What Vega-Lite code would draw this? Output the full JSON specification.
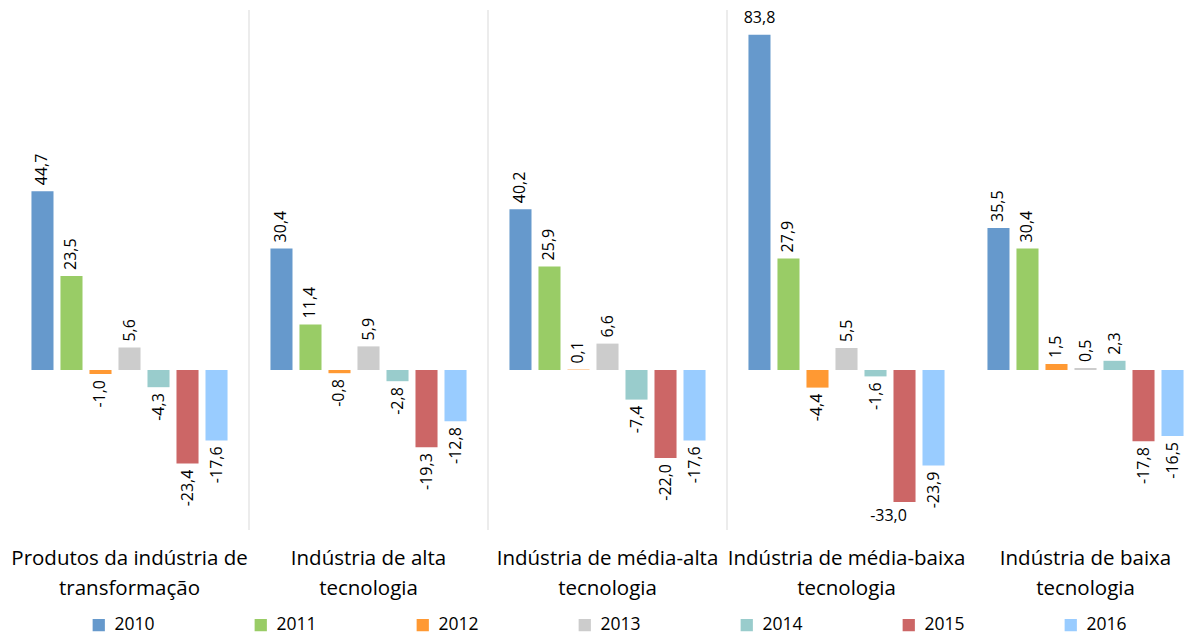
{
  "$schema": "https://vega.github.io/schema/vega-lite/v6.json",
  "width": 1184,
  "height": 520,
  "autosize": "none",
  "padding": {"left": 10, "top": 10, "right": 0, "bottom": 107},
  "background": "white",
  "config": {
    "view": {"stroke": null},
    "font": "Open Sans",
    "locale": {"number": {"decimal": ",", "thousands": ".", "grouping": [3], "currency": ["", ""], "minus": "-"}}
  },
  "datasets": {
    "bars": [
      {"cat": "Produtos da indústria de transformação", "year": "2010", "value": 44.7},
      {"cat": "Produtos da indústria de transformação", "year": "2011", "value": 23.5},
      {"cat": "Produtos da indústria de transformação", "year": "2012", "value": -1.0},
      {"cat": "Produtos da indústria de transformação", "year": "2013", "value": 5.6},
      {"cat": "Produtos da indústria de transformação", "year": "2014", "value": -4.3},
      {"cat": "Produtos da indústria de transformação", "year": "2015", "value": -23.4},
      {"cat": "Produtos da indústria de transformação", "year": "2016", "value": -17.6},
      {"cat": "Indústria de alta tecnologia", "year": "2010", "value": 30.4},
      {"cat": "Indústria de alta tecnologia", "year": "2011", "value": 11.4},
      {"cat": "Indústria de alta tecnologia", "year": "2012", "value": -0.8},
      {"cat": "Indústria de alta tecnologia", "year": "2013", "value": 5.9},
      {"cat": "Indústria de alta tecnologia", "year": "2014", "value": -2.8},
      {"cat": "Indústria de alta tecnologia", "year": "2015", "value": -19.3},
      {"cat": "Indústria de alta tecnologia", "year": "2016", "value": -12.8},
      {"cat": "Indústria de média-alta tecnologia", "year": "2010", "value": 40.2},
      {"cat": "Indústria de média-alta tecnologia", "year": "2011", "value": 25.9},
      {"cat": "Indústria de média-alta tecnologia", "year": "2012", "value": 0.1},
      {"cat": "Indústria de média-alta tecnologia", "year": "2013", "value": 6.6},
      {"cat": "Indústria de média-alta tecnologia", "year": "2014", "value": -7.4},
      {"cat": "Indústria de média-alta tecnologia", "year": "2015", "value": -22.0},
      {"cat": "Indústria de média-alta tecnologia", "year": "2016", "value": -17.6},
      {"cat": "Indústria de média-baixa tecnologia", "year": "2010", "value": 83.8},
      {"cat": "Indústria de média-baixa tecnologia", "year": "2011", "value": 27.9},
      {"cat": "Indústria de média-baixa tecnologia", "year": "2012", "value": -4.4},
      {"cat": "Indústria de média-baixa tecnologia", "year": "2013", "value": 5.5},
      {"cat": "Indústria de média-baixa tecnologia", "year": "2014", "value": -1.6},
      {"cat": "Indústria de média-baixa tecnologia", "year": "2015", "value": -33.0},
      {"cat": "Indústria de média-baixa tecnologia", "year": "2016", "value": -23.9},
      {"cat": "Indústria de baixa tecnologia", "year": "2010", "value": 35.5},
      {"cat": "Indústria de baixa tecnologia", "year": "2011", "value": 30.4},
      {"cat": "Indústria de baixa tecnologia", "year": "2012", "value": 1.5},
      {"cat": "Indústria de baixa tecnologia", "year": "2013", "value": 0.5},
      {"cat": "Indústria de baixa tecnologia", "year": "2014", "value": 2.3},
      {"cat": "Indústria de baixa tecnologia", "year": "2015", "value": -17.8},
      {"cat": "Indústria de baixa tecnologia", "year": "2016", "value": -16.5}
    ],
    "seps": [
      {"cat": "Indústria de alta tecnologia"},
      {"cat": "Indústria de média-alta tecnologia"},
      {"cat": "Indústria de média-baixa tecnologia"}
    ]
  },
  "layer": [
    {
      "data": {"name": "seps"},
      "mark": {"type": "rule", "color": "#d9d9d9", "strokeWidth": 1},
      "encoding": {
        "x": {"field": "cat", "type": "nominal", "bandPosition": 0,
              "sort": ["Produtos da indústria de transformação", "Indústria de alta tecnologia", "Indústria de média-alta tecnologia", "Indústria de média-baixa tecnologia", "Indústria de baixa tecnologia"]}
      }
    },
    {
      "data": {"name": "bars"},
      "layer": [
        {
          "mark": {"type": "bar"},
          "encoding": {
            "color": {
              "field": "year", "type": "nominal",
              "scale": {"domain": ["2010","2011","2012","2013","2014","2015","2016"],
                        "range": ["#6699CC","#99CC66","#FF9933","#CCCCCC","#99CCCC","#CC6666","#99CCFF"]},
              "legend": {
                "orient": "none", "legendX": 80, "legendY": 606, "direction": "horizontal",
                "title": null, "symbolType": "square", "symbolSize": 150, "symbolStrokeWidth": 0,
                "labelFontSize": 17.5, "labelColor": "#000000", "columnPadding": 97, "labelOffset": 7
              }
            }
          }
        },
        {
          "transform": [{"filter": "datum.value >= 0 && datum.value <= 80"}],
          "mark": {"type": "text", "angle": 270, "align": "left", "baseline": "middle", "dx": 6, "fontSize": 16, "color": "#000000"},
          "encoding": {"text": {"field": "value", "type": "quantitative", "format": ".1f"}}
        },
        {
          "transform": [{"filter": "datum.value < 0 && datum.value >= -30"}],
          "mark": {"type": "text", "angle": 270, "align": "right", "baseline": "middle", "dx": -6, "fontSize": 16, "color": "#000000"},
          "encoding": {"text": {"field": "value", "type": "quantitative", "format": ".1f"}}
        },
        {
          "transform": [{"filter": "datum.value > 80"}],
          "mark": {"type": "text", "align": "center", "baseline": "bottom", "dy": -9, "fontSize": 16, "color": "#000000"},
          "encoding": {"text": {"field": "value", "type": "quantitative", "format": ".1f"}}
        },
        {
          "transform": [{"filter": "datum.value < -30"}],
          "mark": {"type": "text", "align": "center", "baseline": "top", "dy": 6, "dx": -16, "fontSize": 16, "color": "#000000"},
          "encoding": {"text": {"field": "value", "type": "quantitative", "format": ".1f"}}
        }
      ],
      "encoding": {
        "x": {
          "field": "cat", "type": "nominal", "title": null,
          "sort": ["Produtos da indústria de transformação", "Indústria de alta tecnologia", "Indústria de média-alta tecnologia", "Indústria de média-baixa tecnologia", "Indústria de baixa tecnologia"],
          "scale": {"paddingInner": 0, "paddingOuter": 0, "range": [0, 1195]},
          "axis": {
            "domain": false, "ticks": false, "labelAngle": 0, "labelPadding": 18, "labelAlign": "center",
            "labelFontSize": 20.5, "labelLineHeight": 30, "labelColor": "#000000", "labelLimit": 0,
            "labelBaseline": "top",
            "labelExpr": "datum.value == 'Produtos da indústria de transformação' ? ['Produtos da indústria de', 'transformação'] : datum.value == 'Indústria de alta tecnologia' ? ['Indústria de alta', 'tecnologia'] : datum.value == 'Indústria de média-alta tecnologia' ? ['Indústria de média-alta', 'tecnologia'] : datum.value == 'Indústria de média-baixa tecnologia' ? ['Indústria de média-baixa', 'tecnologia'] : ['Indústria de baixa', 'tecnologia']"
          }
        },
        "xOffset": {
          "field": "year", "type": "nominal",
          "scale": {"paddingInner": 0.24, "paddingOuter": 0.74}
        },
        "y": {
          "field": "value", "type": "quantitative",
          "scale": {"domain": [-40, 90], "nice": false, "zero": true},
          "axis": null
        }
      }
    }
  ]
}
